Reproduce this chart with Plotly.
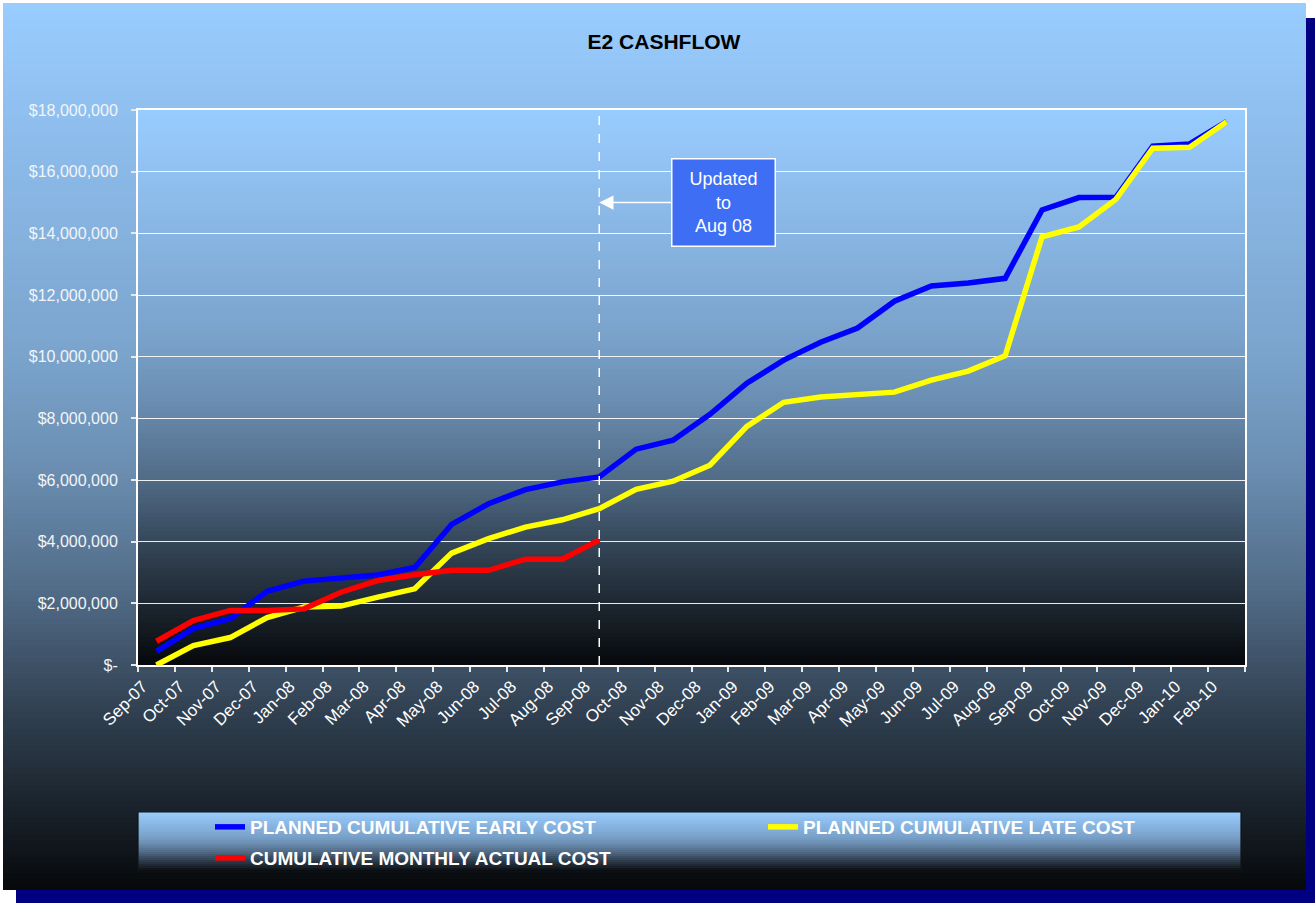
import plotly.graph_objects as go

# ---------------- data ----------------
months = ["Sep-07", "Oct-07", "Nov-07", "Dec-07", "Jan-08", "Feb-08", "Mar-08", "Apr-08",
          "May-08", "Jun-08", "Jul-08", "Aug-08", "Sep-08", "Oct-08", "Nov-08", "Dec-08",
          "Jan-09", "Feb-09", "Mar-09", "Apr-09", "May-09", "Jun-09", "Jul-09", "Aug-09",
          "Sep-09", "Oct-09", "Nov-09", "Dec-09", "Jan-10", "Feb-10"]

early_cost = [440000, 1180000, 1500000, 2390000, 2720000, 2830000, 2920000, 3160000,
              4560000, 5230000, 5690000, 5940000, 6100000, 7000000, 7290000, 8130000,
              9140000, 9890000, 10470000, 10930000, 11800000, 12290000, 12390000, 12540000,
              14760000, 15160000, 15170000, 16830000, 16900000, 17620000]

late_cost = [0, 630000, 890000, 1540000, 1880000, 1910000, 2200000, 2470000,
             3630000, 4100000, 4470000, 4710000, 5070000, 5700000, 5960000, 6480000,
             7740000, 8520000, 8690000, 8750000, 8850000, 9240000, 9530000, 10030000,
             13890000, 14210000, 15100000, 16760000, 16790000, 17620000]

actual_cost = [770000, 1440000, 1770000, 1770000, 1820000, 2360000, 2740000, 2930000,
               3070000, 3070000, 3430000, 3430000, 4060000]

series_names = ["PLANNED CUMULATIVE EARLY COST", "PLANNED CUMULATIVE LATE COST",
                "CUMULATIVE MONTHLY ACTUAL COST"]

y_tick_values = [0, 2000000, 4000000, 6000000, 8000000, 10000000, 12000000,
                 14000000, 16000000, 18000000]
y_tick_labels = ["$-", "$2,000,000", "$4,000,000", "$6,000,000", "$8,000,000",
                 "$10,000,000", "$12,000,000", "$14,000,000", "$16,000,000", "$18,000,000"]

title_text = "E2 CASHFLOW"
update_month = "Sep-08"
update_label = "Updated<br>to<br>Aug 08"
update_arrow_value = 15000000

# ---------------- layout helpers ----------------
FONT = "Liberation Sans, Arial, sans-serif"
W, H = 1315, 903
L, R, T, B = 138, 70, 110, 238
PW = W - L - R
PH = H - T - B


def xp(px):
    return (px - L) / PW


def yp(py):
    return (H - B - py) / PH


TOP_RGB = (153, 204, 255)
CURVE = [(0.0, 1.0), (0.4, 0.8), (0.52, 0.70), (0.67, 0.52), (0.74, 0.41),
         (0.81, 0.30), (0.87, 0.22), (0.95, 0.11), (1.0, 0.04)]


def shade(f):
    for (f0, v0), (f1, v1) in zip(CURVE[:-1], CURVE[1:]):
        if f0 <= f <= f1:
            k = v0 + (v1 - v0) * (f - f0) / (f1 - f0)
            break
    else:
        k = CURVE[-1][1]
    r, g, b = (int(round(c * k)) for c in TOP_RGB)
    return f"rgb({r},{g},{b})"


def gradient(px0, py0, px1, py1, n):
    out = []
    h = (py1 - py0) / n
    for i in range(n):
        top = py0 + i * h
        bot = min(py1, top + h + 0.8)
        out.append(dict(type="rect", xref="paper", yref="paper", layer="below",
                        x0=xp(px0), x1=xp(px1), y0=yp(bot), y1=yp(top),
                        fillcolor=shade((i + 0.5) / n), line=dict(width=0)))
    return out


shapes = []
# navy drop shadow
shapes.append(dict(type="rect", xref="paper", yref="paper", layer="below",
                   x0=xp(16), x1=xp(1316), y0=yp(904), y1=yp(18),
                   fillcolor="#000080", line=dict(width=0)))
# chart area gradient
shapes += gradient(3, 3, 1306, 890, 160)
# plot area gradient
shapes += gradient(L, T, L + PW, T + PH, 120)
# legend box gradient + border
shapes += gradient(138, 812, 1241, 872, 30)
shapes.append(dict(type="rect", xref="paper", yref="paper", layer="below",
                   x0=xp(138), x1=xp(1241), y0=yp(872), y1=yp(812),
                   fillcolor="rgba(0,0,0,0)", line=dict(color="#101418", width=1.2)))
# dashed "update" line
shapes.append(dict(type="line", xref="x", yref="paper", layer="above",
                   x0=update_month, x1=update_month, y0=0, y1=1,
                   line=dict(color="white", width=1.5, dash="dash")))

fig = go.Figure()
fig.add_trace(go.Scatter(x=months, y=early_cost, mode="lines", name=series_names[0],
                         line=dict(color="#0000FF", width=5.5), legend="legend"))
fig.add_trace(go.Scatter(x=months, y=late_cost, mode="lines", name=series_names[1],
                         line=dict(color="#FFFF00", width=5.5), legend="legend"))
fig.add_trace(go.Scatter(x=months[:len(actual_cost)], y=actual_cost, mode="lines",
                         name=series_names[2],
                         line=dict(color="#FF0000", width=5.5), legend="legend2"))

legend_common = dict(orientation="h", xanchor="left", yanchor="top",
                     bgcolor="rgba(0,0,0,0)", borderwidth=0,
                     font=dict(family=FONT, size=19, color="white", weight="bold"),
                     entrywidth=508, entrywidthmode="pixels")

fig.update_layout(
    width=W, height=H,
    margin=dict(l=L, r=R, t=T, b=B, autoexpand=False),
    paper_bgcolor="white",
    plot_bgcolor="rgba(0,0,0,0)",
    showlegend=True,
    title=dict(text=title_text, xref="container", yref="container",
               x=664 / W, xanchor="center", y=1 - 42 / H, yanchor="middle",
               font=dict(family=FONT, size=21, color="black", weight="bold")),
    xaxis=dict(type="category", categoryorder="array", categoryarray=months,
               range=[-0.5, len(months) - 0.5],
               showline=True, linecolor="white", linewidth=2, mirror=True,
               showgrid=False, tickson="boundaries", ticks="outside", ticklen=5,
               tickwidth=1.5, tickcolor="#E8E8E8", tickangle=-45,
               ticklabelshift=-14, ticklabelstandoff=3,
               tickfont=dict(family=FONT, size=17, color="white")),
    yaxis=dict(range=[0, 18000000], tickvals=y_tick_values, ticktext=y_tick_labels,
               showline=True, linecolor="white", linewidth=2, mirror=True,
               showgrid=True, gridcolor="rgba(255,255,255,0.9)", gridwidth=1.3,
               zeroline=False, ticks="outside", ticklen=5, tickwidth=1.5,
               tickcolor="#E8E8E8", ticklabelstandoff=10,
               tickfont=dict(family=FONT, size=16, color="#F2F5F8")),
    legend=dict(x=xp(210), y=yp(808), **legend_common),
    legend2=dict(x=xp(210), y=yp(839), **legend_common),
    shapes=shapes,
    annotations=[dict(x=update_month, y=update_arrow_value, xref="x", yref="y",
                      text=update_label, showarrow=True, ax=124, ay=0,
                      arrowhead=2, arrowsize=1.9, arrowwidth=1.5, arrowcolor="white",
                      standoff=0, bgcolor="#3E6EF3", bordercolor="white",
                      borderwidth=1.5, borderpad=2, width=98, height=82,
                      align="center",
                      font=dict(family=FONT, size=18, color="white"))],
)

fig.write_html("out.html", config={"displayModeBar": False},
               post_script="document.body.style.margin='0';document.body.style.padding='0';")
